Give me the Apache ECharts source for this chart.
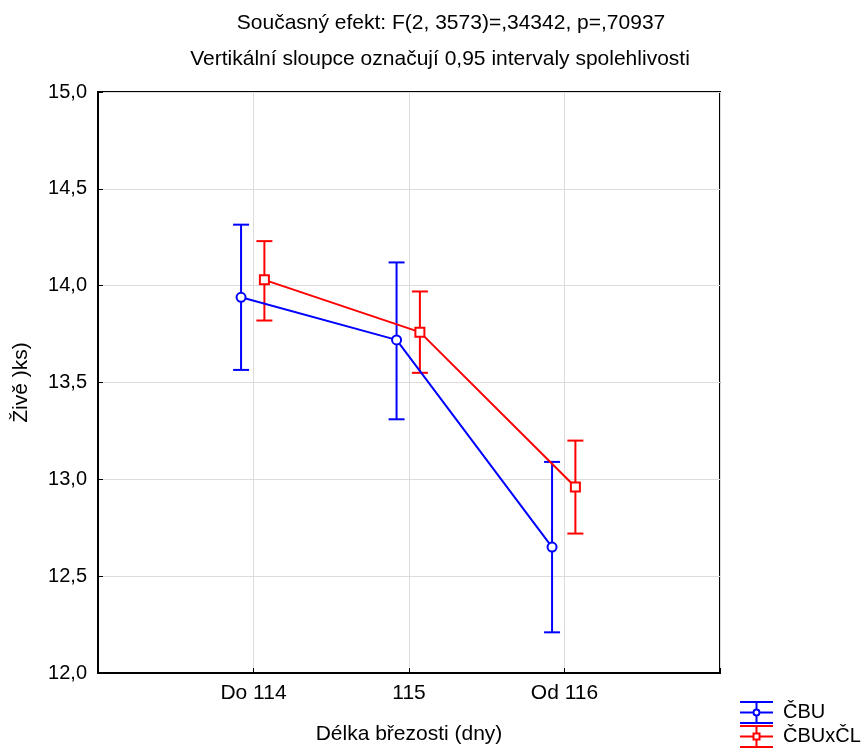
<!DOCTYPE html>
<html>
<head>
<meta charset="utf-8">
<script src="https://cdn.jsdelivr.net/npm/echarts@6/dist/echarts.min.js"></script>
<style>
  html, body { margin: 0; padding: 0; background: #fff; }
  #chart { width: 862px; height: 749px; }
</style>
</head>
<body>
<div id="chart"></div>
<script>
const categories = ['Do 114', '115', 'Od 116'];
const seriesNames = ['ČBU', 'ČBUxČL'];
const cbuMean = [13.94, 13.72, 12.65];
const cbuLow = [13.565, 13.31, 12.21];
const cbuHigh = [14.315, 14.12, 13.09];
const mixMean = [14.03, 13.76, 12.96];
const mixLow = [13.82, 13.55, 12.72];
const mixHigh = [14.23, 13.97, 13.20];
const offsets = [-0.08, 0.07];
const colors = ['#0000ff', '#ff0000'];

const font = 'Arial, "Liberation Sans", sans-serif';

function points(mean, off) {
  return mean.map((v, i) => [i + 1 + off, v]);
}
function bars(low, high, off) {
  return low.map((v, i) => [i + 1 + off, v, high[i]]);
}

function errorItem(color) {
  return function (params, api) {
    const x = api.value(0);
    const lo = api.coord([x, api.value(1)]);
    const hi = api.coord([x, api.value(2)]);
    const w = 8;
    const style = { stroke: color, lineWidth: 2, fill: null };
    return {
      type: 'group',
      children: [
        { type: 'line', shape: { x1: lo[0], y1: lo[1], x2: hi[0], y2: hi[1] }, style },
        { type: 'line', shape: { x1: lo[0] - w, y1: lo[1], x2: lo[0] + w, y2: lo[1] }, style },
        { type: 'line', shape: { x1: hi[0] - w, y1: hi[1], x2: hi[0] + w, y2: hi[1] }, style }
      ]
    };
  };
}

// legend icons: three horizontal strokes with a vertical bar and marker
const ring = 'M16.5,7.5 A4,4 0 1,1 16.49,7.5 Z M16.5,9.5 A2,2 0 1,0 16.51,9.5 Z';
const box = 'M12.5,7.5 H20.5 V15.5 H12.5 Z M14.5,9.5 V13.5 H18.5 V9.5 Z';
const strokes = 'M0,0 H33 V2 H0 Z M0,10.5 H12.5 V12.5 H0 Z M20.5,10.5 H33 V12.5 H20.5 Z M0,21 H33 V23 H0 Z M15.5,0 H17.5 V7.5 H15.5 Z M15.5,15.5 H17.5 V23 H15.5 Z';

const chart = echarts.init(document.getElementById('chart'));
chart.setOption({
  animation: false,
  backgroundColor: '#fff',
  title: [
    {
      text: 'Současný efekt: F(2, 3573)=,34342, p=,70937',
      left: 446, top: 8, textAlign: 'center',
      textStyle: { fontFamily: font, fontSize: 21, fontWeight: 'normal', color: '#000' }
    },
    {
      text: 'Vertikální sloupce označují 0,95 intervaly spolehlivosti',
      left: 435, top: 44, textAlign: 'center',
      textStyle: { fontFamily: font, fontSize: 21, fontWeight: 'normal', color: '#000' }
    }
  ],
  grid: {
    left: 98, right: 142, top: 92, bottom: 76,
    outerBoundsMode: 'none', containLabel: false,
    show: true, borderColor: '#000', borderWidth: 2, backgroundColor: 'transparent'
  },
  legend: {
    orient: 'vertical',
    left: 740, top: 701, padding: 0,
    itemWidth: 33, itemHeight: 23, itemGap: 1,
    textStyle: { fontFamily: font, fontSize: 20, color: '#000', padding: [0, 0, 0, 5] },
    data: [
      { name: seriesNames[0], icon: 'path://' + strokes + ' ' + ring, itemStyle: { color: colors[0] } },
      { name: seriesNames[1], icon: 'path://' + strokes + ' ' + box, itemStyle: { color: colors[1] } }
    ]
  },
  xAxis: {
    type: 'value', min: 0, max: 4, interval: 1,
    name: 'Délka březosti (dny)', nameLocation: 'middle', nameGap: 51,
    nameTextStyle: { fontFamily: font, fontSize: 21, color: '#000' },
    axisLine: { show: true, lineStyle: { color: '#000', width: 2 } },
    axisTick: { show: true, inside: true, length: 5, lineStyle: { color: '#000' } },
    axisLabel: {
      fontFamily: font, fontSize: 21, color: '#000', margin: 10,
      formatter: v => categories[v - 1] || ''
    },
    splitLine: { show: true, lineStyle: { color: '#dcdcdc', width: 1 } }
  },
  yAxis: {
    type: 'value', min: 12, max: 15, interval: 0.5,
    name: 'Živě )ks)', nameLocation: 'middle', nameGap: 66,
    nameTextStyle: { fontFamily: font, fontSize: 21, color: '#000' },
    axisLine: { show: true, lineStyle: { color: '#000', width: 2 } },
    axisTick: { show: true, inside: true, length: 5, lineStyle: { color: '#000' } },
    axisLabel: {
      fontFamily: font, fontSize: 20, color: '#000', margin: 11,
      formatter: v => v.toFixed(1).replace('.', ',')
    },
    splitLine: { show: true, lineStyle: { color: '#dcdcdc', width: 1 } }
  },
  series: [
    {
      name: seriesNames[0], type: 'line',
      data: points(cbuMean, offsets[0]),
      symbol: 'emptyCircle', symbolSize: 9,
      itemStyle: { color: colors[0], borderWidth: 2 },
      lineStyle: { color: colors[0], width: 2 }, z: 3
    },
    {
      name: seriesNames[1], type: 'line',
      data: points(mixMean, offsets[1]),
      symbol: 'emptyRect', symbolSize: 9,
      itemStyle: { color: colors[1], borderWidth: 2 },
      lineStyle: { color: colors[1], width: 2 }, z: 3
    },
    {
      name: seriesNames[0], type: 'custom',
      renderItem: errorItem(colors[0]),
      encode: { x: 0, y: [1, 2] },
      data: bars(cbuLow, cbuHigh, offsets[0]), z: 2
    },
    {
      name: seriesNames[1], type: 'custom',
      renderItem: errorItem(colors[1]),
      encode: { x: 0, y: [1, 2] },
      data: bars(mixLow, mixHigh, offsets[1]), z: 2
    }
  ]
});
</script>
</body>
</html>
